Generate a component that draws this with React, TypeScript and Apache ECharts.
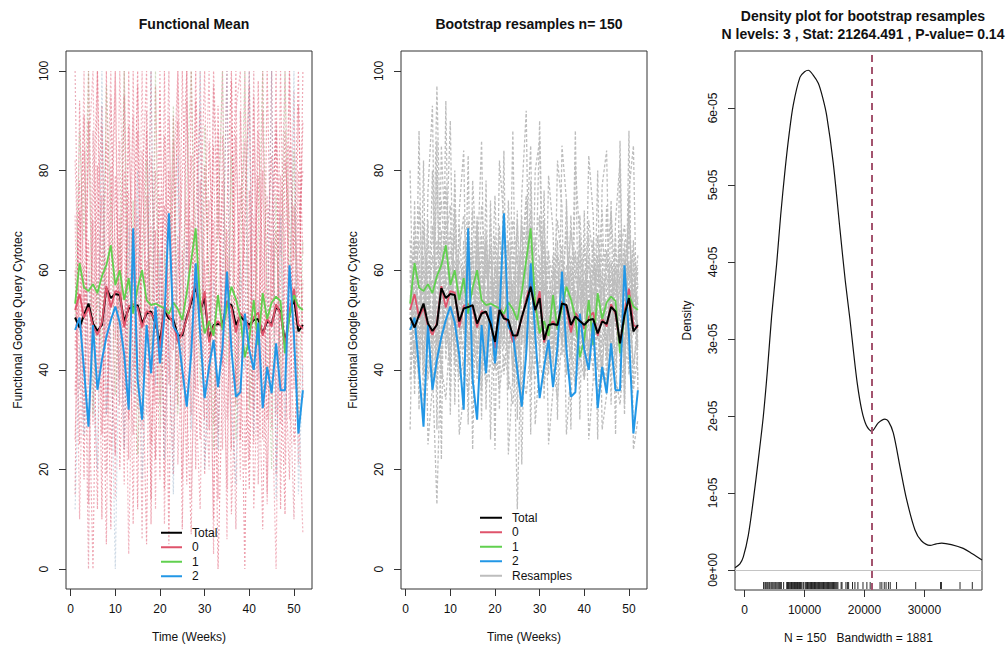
import React, { useEffect, useRef } from "react";
import * as echarts from "echarts";

const FONT = "'Liberation Sans', Arial, Helvetica, sans-serif";

const WEEKS = [1,2,3,4,5,6,7,8,9,10,11,12,13,14,15,16,17,18,19,20,21,22,23,24,25,26,27,28,29,30,31,32,33,34,35,36,37,38,39,40,41,42,43,44,45,46,47,48,49,50,51,52];

const TOTAL = [50.5,48.5,51,53.3,49.3,47.8,49,56.4,54.4,55.2,55,49.7,52.3,52.6,53,49.3,51.3,51.7,49.3,45.6,52,50.3,50,46.9,46.9,50.6,53.5,56.7,52,54.4,46,49,49.2,49,53.3,53,49,50.7,49.8,49,50,50.2,47.3,49.7,49.2,52.6,51.7,45.3,51,54.4,47.7,49];
const GROUP0 = [52,55.2,50.5,52.5,48.8,47,49.5,56.8,52.5,55.8,55.5,48.5,52.8,53.2,52.5,48.5,51.8,51.3,49.8,44.3,52.8,50.8,49.3,45.5,47.4,50.2,54.2,57.4,51.5,55.8,45.5,48.7,49.8,48.5,53.8,52.4,47.5,51.4,50.3,48.2,50.6,51.5,46.8,50.3,48.7,53.2,51.2,44.8,51.8,56.3,49,48.4];
const GROUP1 = [53.3,61.4,56.5,55.8,57.2,55.4,58.8,61,65,57,60,54,58.4,51.3,56.5,60,54,53,53.3,52.8,52.3,51.2,53.5,52.2,50,55.5,62,68.4,53.3,47.3,49.8,46.8,55,48,52.5,56.7,54.2,50.5,42.5,46.2,54,45,55.4,50.2,53.5,54.7,53.8,43.3,50.8,55,52.7,52];
const GROUP2 = [48,50.5,40,28.6,49,36,42,46.6,50,52.7,49.5,43,32,68.4,38,30,49,39.3,52.7,41.3,50.6,71.4,48.7,47.3,40,32.6,43.3,61.4,47.3,34.3,40.6,46,36.5,44.5,59.7,44,34.6,35.5,51.3,44,40,49.5,32.3,40.6,35.3,45.3,35.9,35.9,61,47,27.2,35.9];

// raw curves behind the functional mean (panel 1)
const RAW_A = [35,72,18,90,44,100,27,61,8,79,52,95,30,66,12,84,47,100,22,58,73,5,91,38,64,17,100,49,26,81,57,10,93,41,68,24,87,53,0,76,32,98,45,15,70,88,29,62,100,36,80,47];
const RAW_B = [60,25,84,41,0,67,93,31,55,100,20,48,76,9,88,39,62,14,97,53,28,80,44,100,63,34,7,71,92,19,46,85,27,59,100,11,40,77,63,22,95,50,8,66,83,31,100,42,18,73,55,90];
const RAW_C = [82,48,100,13,70,38,58,86,24,42,100,65,3,54,97,28,75,50,33,100,9,62,86,21,45,94,58,36,12,68,100,29,51,78,6,89,61,18,100,45,71,26,92,57,38,0,79,64,30,96,21,58];
const RAW_D = [15,94,52,66,29,81,10,100,40,23,71,36,89,58,100,47,5,83,60,18,100,37,64,90,8,74,42,100,55,30,86,61,0,39,72,100,33,92,48,16,60,79,26,100,53,68,44,11,85,62,100,34];
const RAW_E = [100,36,61,0,88,52,75,19,95,63,33,100,50,27,71,6,92,38,80,45,58,100,24,67,36,100,14,53,78,43,20,97,66,100,30,55,8,72,86,34,100,17,59,75,28,90,63,100,41,10,69,80];
const RAW_F = [44,78,30,100,56,12,89,47,69,100,38,80,22,100,32,64,88,25,48,75,16,91,55,33,100,60,83,20,68,100,39,70,14,87,50,61,100,26,73,97,12,43,80,36,100,19,58,88,54,25,40,100];
const RAW_G = [71,10,58,83,100,41,35,68,100,14,86,24,63,91,43,100,31,69,12,96,40,55,77,100,18,52,70,36,100,51,74,3,88,24,63,46,92,100,20,57,85,38,100,13,66,47,76,21,100,59,34,7];
const RAW_H = [26,63,91,37,72,100,58,5,81,46,66,17,100,40,56,75,100,9,68,33,87,43,19,58,79,100,31,94,42,62,28,100,73,49,16,98,35,54,67,100,25,88,61,30,49,100,12,82,70,44,93,63];
const RAW_I = [50,88,66,100,31,58,44,97,72,35,61,100,40,74,23,59,82,44,100,28,64,49,93,31,56,78,100,62,37,89,55,24,70,100,41,83,26,59,100,32,48,67,100,53,20,75,36,100,57,84,28,66];
const RAW_J = [12,45,27,60,38,20,100,31,48,0,57,24,69,35,80,18,42,100,37,64,22,49,15,83,40,66,28,47,100,20,39,58,24,55,100,33,17,62,40,100,27,54,33,47,100,14,71,30,52,100,15,41];

// bootstrap resamples (panel 2)
const RES_1 = [55,47,60,44,52,63,48,59,70,51,46,62,57,49,66,43,54,61,50,58,45,67,53,41,56,64,49,72,58,47,52,60,44,57,65,50,42,59,54,48,63,52,46,58,51,45,61,55,43,68,50,57];
const RES_2 = [42,61,50,57,38,49,66,53,47,64,58,41,60,52,45,71,47,55,62,40,59,51,48,63,37,55,68,52,45,60,43,50,63,48,56,39,61,49,58,44,53,66,47,40,57,62,50,46,64,53,41,48];
const RES_3 = [63,52,45,68,57,41,80,46,58,54,67,49,44,70,55,60,40,63,48,56,52,44,74,50,59,45,61,54,66,42,58,47,55,41,62,57,51,44,67,53,40,57,61,52,46,59,48,66,55,42,60,53];
const RES_4 = [48,57,66,39,61,54,36,62,51,44,55,60,47,58,62,38,66,45,57,51,69,48,42,57,63,34,53,65,46,70,51,43,58,63,45,54,60,41,51,65,48,44,56,63,38,52,67,40,58,47,62,45];
const RES_5 = [58,44,53,60,46,69,52,40,63,57,50,45,66,44,51,59,62,43,54,67,40,57,61,46,52,71,44,50,59,55,66,41,49,60,52,46,57,64,43,56,61,49,52,45,64,50,43,60,49,62,37,55];
const RES_6 = [51,66,42,55,62,47,97,55,45,61,43,69,52,60,41,53,48,66,43,61,56,39,50,58,12,49,43,59,52,90,46,61,52,45,57,68,44,51,62,39,58,49,67,54,46,55,60,44,59,71,52,49];
const RES_7 = [45,53,58,49,70,40,13,47,66,50,62,54,39,55,59,48,57,52,65,47,50,62,44,55,60,45,64,38,49,63,45,56,50,66,43,59,49,56,46,58,52,61,40,56,59,42,54,63,45,51,66,38];
const RES_8 = [60,39,55,47,54,58,45,68,42,59,49,57,61,46,53,64,51,40,59,46,63,54,58,47,70,51,46,61,41,52,60,55,46,53,49,61,55,47,59,52,44,60,54,50,61,57,40,53,66,45,55,61];
const RES_9 = [38,58,47,63,45,51,61,56,49,41,72,52,48,64,45,56,67,49,52,60,44,59,52,40,54,62,57,46,61,48,56,64,42,58,50,45,63,54,49,60,55,47,63,40,53,49,58,51,42,57,60,48];
const RES_10 = [66,50,62,42,57,46,54,43,77,56,52,39,58,50,64,43,59,56,46,53,61,45,57,66,44,58,50,69,54,44,62,49,57,43,59,52,46,63,57,44,50,56,47,60,42,61,52,56,62,39,54,63];
const RES_11 = [80,35,88,30,76,93,28,85,62,90,33,72,84,29,78,60,86,32,74,24,82,70,36,88,30,75,92,27,80,86,34,79,68,30,85,74,28,81,66,38,83,71,26,77,84,33,70,82,31,76,85,36];
const RES_12 = [28,74,32,82,25,37,86,22,94,31,80,27,35,83,24,70,30,78,26,65,32,84,23,39,72,21,66,85,29,42,76,25,36,82,73,27,40,88,30,72,26,38,80,28,35,74,27,86,33,88,24,30];
const RES_13 = [52,70,58,48,66,55,62,74,57,68,49,64,71,56,60,52,73,58,64,50,67,59,55,70,62,57,74,60,66,71,55,63,58,70,61,56,68,59,64,53,70,62,57,66,60,72,55,63,69,58,64,57];
const RES_14 = [40,46,38,52,43,36,47,41,34,49,44,38,42,35,48,40,45,37,41,47,36,43,39,33,46,40,35,44,38,42,37,45,41,34,47,39,44,36,43,38,46,40,35,42,37,45,39,33,44,41,36,43];
const RES_15 = [62,38,73,55,44,80,40,65,58,35,77,47,60,41,72,54,36,68,49,75,43,58,66,37,53,69,42,78,46,57,70,39,61,52,45,74,48,37,71,55,42,66,51,38,73,46,64,57,39,75,47,60];
const RES_16 = [47,64,41,70,52,45,60,38,66,73,41,56,48,62,37,69,52,44,71,40,58,47,65,53,39,62,75,44,57,48,66,52,41,63,58,44,71,49,55,40,67,46,59,72,43,56,49,68,41,61,57,44];

const RAW_CURVES = [RAW_A, RAW_B, RAW_C, RAW_D, RAW_E, RAW_F, RAW_G, RAW_H, RAW_I, RAW_J];
const RESAMPLES = [RES_1, RES_2, RES_3, RES_4, RES_5, RES_6, RES_7, RES_8, RES_9, RES_10, RES_11, RES_12, RES_13, RES_14, RES_15, RES_16];

const WEEK_TICKS = [0, 10, 20, 30, 40, 50];
const VALUE_TICKS = [0, 20, 40, 60, 80, 100];

// density of bootstrap statistic
const DENSITY_X = [-1620,-800,-230,600,1440,2300,3100,3800,4500,5340,6000,6730,7400,8110,9230,10000,10620,11400,12290,13000,13690,14790,15910,16800,17580,18130,18800,19530,20300,21200,22300,23420,24000,24810,25930,27050,28430,29500,30940,32000,32890,34500,36490,38000,39620];
const DENSITY_Y_E5 = [0.03,0.08,0.17,0.45,0.91,1.45,1.99,2.6,3.3,3.98,4.6,5.19,5.65,6.04,6.4,6.47,6.49,6.43,6.32,6.14,5.9,5.28,4.42,3.75,3.25,2.86,2.42,2.08,1.88,1.8,1.91,1.96,1.93,1.78,1.34,0.91,0.52,0.38,0.32,0.34,0.35,0.33,0.28,0.21,0.13];
const RUG = [3150,3380,3520,3700,3860,4050,4190,4400,4560,4720,4900,5080,5230,5410,5600,5780,5950,6120,6500,7020,7150,7300,7420,7560,7700,7810,7950,8080,8200,8330,8450,8570,8690,8800,8930,9050,9170,9300,9420,9560,9800,10080,10220,10350,10490,10610,10740,10880,11010,11150,11280,11400,11530,11660,11800,11930,12070,12200,12340,12470,12610,12750,12880,13020,13160,13290,13430,13570,13700,13840,13980,14120,14260,14400,14540,14680,14820,14960,15100,15250,15400,15560,16100,16250,16900,17150,17350,18000,18400,18900,19750,20400,20950,22600,22900,23300,23600,24000,24300,25350,28550,32700,32850,35950,38000];
const STAT = 21264.491;
const DENSITY_X_TICKS = [0, 10000, 20000, 30000];
const DENSITY_Y_TICKS = [0, 1e-5, 2e-5, 3e-5, 4e-5, 5e-5, 6e-5];
const DENSITY_Y_LABELS = ["0e+00", "1e-05", "2e-05", "3e-05", "4e-05", "5e-05", "6e-05"];

const COLORS = { total: "#000000", g0: "#DF536B", g1: "#61D04F", g2: "#2297E6", res: "#bdbdbd" };
const RAW_COLORS = ["rgba(223,83,107,0.55)", "rgba(223,83,107,0.5)", "rgba(230,120,140,0.55)", "rgba(223,83,107,0.55)", "rgba(215,95,120,0.5)", "rgba(223,83,107,0.5)", "rgba(230,120,140,0.55)", "rgba(223,83,107,0.5)", "rgba(150,175,120,0.45)", "rgba(130,160,190,0.4)"];

const pairs = (vals: number[]) => vals.map((v, i) => [WEEKS[i], v]);

const Y_MIN_D = -2.6e-6;

export default function App() {
  const ref = useRef<HTMLDivElement>(null);
  useEffect(() => {
    if (!ref.current) return;
    const chart = echarts.init(ref.current, null, { renderer: "svg" });
    const tickStyle = { color: "#333", width: 1 };
    const labelStyle = { fontSize: 12, color: "#111", fontFamily: FONT };
    const nameStyle = { fontSize: 12, color: "#111", fontFamily: FONT };

    const weekAxis = (gi: number) => ({
      gridIndex: gi, type: "value", min: -1.04, max: 54.04,
      splitLine: { show: false }, axisLine: { show: false, onZero: false },
      axisTick: { show: true, length: 7, lineStyle: tickStyle, customValues: WEEK_TICKS },
      axisLabel: { ...labelStyle, margin: 14, customValues: WEEK_TICKS },
      name: "Time (Weeks)", nameLocation: "middle", nameGap: 42, nameTextStyle: nameStyle,
    });
    const valAxis = (gi: number) => ({
      gridIndex: gi, type: "value", min: -4, max: 104,
      splitLine: { show: false }, axisLine: { show: false, onZero: false },
      axisTick: { show: true, length: 7, lineStyle: tickStyle, customValues: VALUE_TICKS },
      axisLabel: { ...labelStyle, margin: 16, rotate: 90, customValues: VALUE_TICKS },
      name: "Functional Google Query Cytotec", nameLocation: "middle", nameGap: 42, nameTextStyle: nameStyle,
    });

    const series: any[] = [];
    RAW_CURVES.forEach((c, i) => series.push({
      type: "line", name: "raw" + i, xAxisIndex: 0, yAxisIndex: 0, data: pairs(c), symbol: "none", silent: true,
      lineStyle: { color: RAW_COLORS[i], width: 1.2, type: [2, 2] },
    }));
    const mains = (xi: number, order: string[]) => {
      const defs: any = {
        Total: { data: TOTAL, color: COLORS.total, width: 2 },
        "0": { data: GROUP0, color: COLORS.g0, width: 1.8 },
        "1": { data: GROUP1, color: COLORS.g1, width: 1.8 },
        "2": { data: GROUP2, color: COLORS.g2, width: 2 },
      };
      order.forEach((n) => series.push({
        type: "line", name: n, xAxisIndex: xi, yAxisIndex: xi, data: pairs(defs[n].data), symbol: "none",
        itemStyle: { color: defs[n].color }, lineStyle: { color: defs[n].color, width: defs[n].width },
      }));
    };
    mains(0, ["Total", "0", "1", "2"]);
    RESAMPLES.forEach((c) => series.push({
      type: "line", name: "Resamples", xAxisIndex: 1, yAxisIndex: 1, data: pairs(c), symbol: "none", silent: true,
      itemStyle: { color: COLORS.res }, lineStyle: { color: COLORS.res, width: 1.3, type: [3, 2] },
    }));
    mains(1, ["0", "1", "2", "Total"]);

    series.push({
      type: "line", name: "density", xAxisIndex: 2, yAxisIndex: 2, symbol: "none", smooth: 0.3,
      data: DENSITY_X.map((x, i) => [x, DENSITY_Y_E5[i] * 1e-5]),
      lineStyle: { color: "#111", width: 1.2 },
      markLine: {
        silent: true, symbol: ["none", "none"], label: { show: false },
        data: [
          { yAxis: 0, lineStyle: { color: "#c4c4c4", width: 1, type: "solid" } },
          { xAxis: STAT, lineStyle: { color: "#a3536e", width: 2, type: [7, 5] } },
        ],
      },
    });
    series.push({
      type: "custom", name: "rug", xAxisIndex: 2, yAxisIndex: 2, silent: true,
      data: RUG.map((v) => [v, 0]),
      renderItem: (params: any, api: any) => {
        const p = api.coord([api.value(0), Y_MIN_D]);
        return { type: "line", shape: { x1: p[0], y1: p[1] - 1, x2: p[0], y2: p[1] - 8 }, style: { stroke: "#111", lineWidth: 0.9 } };
      },
    });

    const legendCommon = {
      orient: "vertical", padding: 0, itemGap: 1, itemHeight: 2, icon: "rect", selectedMode: false,
      textStyle: { fontSize: 12, color: "#111", fontFamily: FONT, lineHeight: 13.5, padding: [0, 0, 0, 5] },
    };

    chart.setOption({
      animation: false,
      backgroundColor: "#ffffff",
      title: [
        { text: "Functional Mean", left: 189, top: 12, textAlign: "center", textStyle: { fontSize: 14, fontWeight: "bold", color: "#111", fontFamily: FONT } },
        { text: "Bootstrap resamples n= 150", left: 524, top: 12, textAlign: "center", textStyle: { fontSize: 14, fontWeight: "bold", color: "#111", fontFamily: FONT } },
        { text: "Density plot for bootstrap resamples\nN levels: 3 , Stat: 21264.491 , P-value= 0.14", left: 858, top: 2, textAlign: "center", textStyle: { fontSize: 14, fontWeight: "bold", color: "#111", fontFamily: FONT, lineHeight: 18 } },
      ],
      legend: [
        { ...legendCommon, data: ["Total", "0", "1", "2"], left: 161, top: 526, itemWidth: 21 },
        { ...legendCommon, data: ["Total", "0", "1", "2", "Resamples"], left: 480, top: 511, itemWidth: 22 },
      ],
      grid: [
        { left: 66, top: 51, width: 246, height: 538, show: true, borderColor: "#333", borderWidth: 1, backgroundColor: "transparent" },
        { left: 401, top: 51, width: 246, height: 538, show: true, borderColor: "#333", borderWidth: 1, backgroundColor: "transparent" },
        { left: 735, top: 51, width: 247, height: 539, show: true, borderColor: "#333", borderWidth: 1, backgroundColor: "transparent" },
      ],
      xAxis: [
        weekAxis(0), weekAxis(1),
        {
          gridIndex: 2, type: "value", min: -1620, max: 39620,
          splitLine: { show: false }, axisLine: { show: false, onZero: false },
          axisTick: { show: true, length: 7, lineStyle: tickStyle, customValues: DENSITY_X_TICKS },
          axisLabel: { ...labelStyle, margin: 14, customValues: DENSITY_X_TICKS, formatter: (v: number) => String(Math.round(v)) },
          name: "N = 150   Bandwidth = 1881", nameLocation: "middle", nameGap: 42, nameTextStyle: nameStyle,
        },
      ],
      yAxis: [
        valAxis(0), valAxis(1),
        {
          gridIndex: 2, type: "value", min: Y_MIN_D, max: 6.74e-5,
          splitLine: { show: false }, axisLine: { show: false, onZero: false },
          axisTick: { show: true, length: 7, lineStyle: tickStyle, customValues: DENSITY_Y_TICKS },
          axisLabel: {
            ...labelStyle, margin: 16, rotate: 90, customValues: DENSITY_Y_TICKS,
            formatter: (v: number) => {
              let best = 0;
              DENSITY_Y_TICKS.forEach((t, i) => { if (Math.abs(t - v) < Math.abs(DENSITY_Y_TICKS[best] - v)) best = i; });
              return DENSITY_Y_LABELS[best];
            },
          },
          name: "Density", nameLocation: "middle", nameGap: 42, nameTextStyle: nameStyle,
        },
      ],
      series,
    });
    return () => chart.dispose();
  }, []);
  return <div ref={ref} style={{ position: "absolute", left: 0, top: 0, width: 1008, height: 651, background: "#fff" }} />;
}
